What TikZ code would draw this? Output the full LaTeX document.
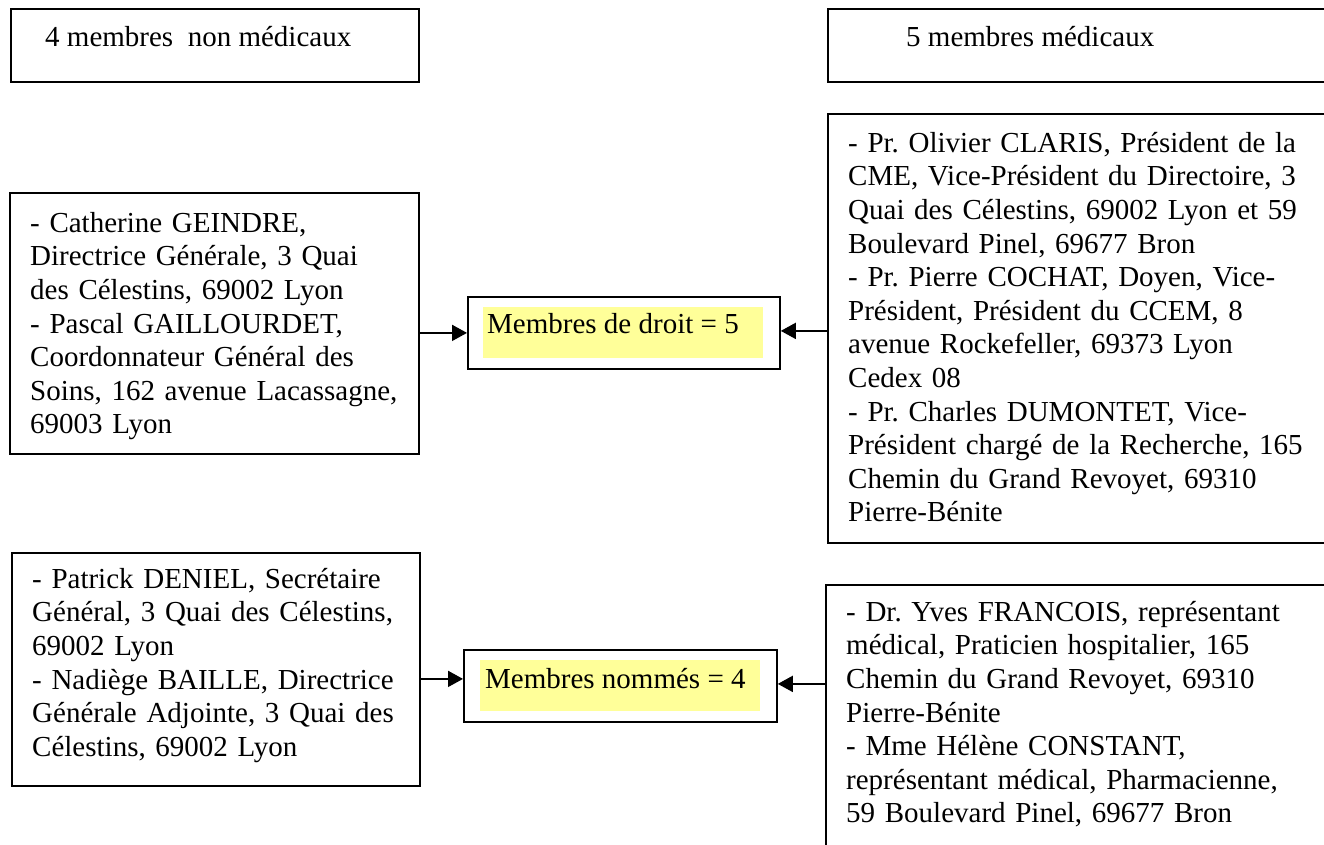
\documentclass[tikz,border=0pt]{standalone}
\usepackage{fontspec}
\setmainfont{Liberation Serif}
\usetikzlibrary{arrows.meta}
\definecolor{hl}{RGB}{255,255,153}
\frenchspacing
\begin{document}
\begin{tikzpicture}[x=1pt,y=-1pt,
  box/.style={draw, line width=1.8pt, rectangle, inner sep=0pt, anchor=north west},
  txt/.style={anchor=north west, inner sep=0pt, align=left, text width=#1, font=\fontsize{29}{33.6}\selectfont},
  lbl/.style={anchor=base west, inner sep=0pt, font=\fontsize{29}{33.6}\selectfont},
  arr/.style={line width=1.8pt, -{Triangle[length=15pt,width=16pt]}}]
\useasboundingbox (0,0) rectangle (1324,845);
\clip (0,0) rectangle (1324,845);

% header boxes
\node[box, minimum width=408pt, minimum height=73pt] (hl) at (10,8) {};
\node[box, minimum width=520pt, minimum height=73pt] (hr) at (827,8) {};
\node[lbl] (hltxt) at (45,47) {4 membres\ \ non médicaux};
\node[lbl] (hrtxt) at (906,47) {5 membres médicaux};

% row 1
\node[box, minimum width=409pt, minimum height=261pt] (lb1) at (9,192) {};
\node[box, minimum width=520pt, minimum height=429pt] (rb1) at (827,113) {};
\node[box, minimum width=312pt, minimum height=72pt] (cb1) at (467,296) {};
\fill[hl] (483,307) rectangle (763,358);
\node[lbl] (cb1txt) at (487,333) {Membres de droit = 5};

\node[txt=380pt] (lb1txt) at (30,208.5) {\strut - Catherine GEINDRE,\\
Directrice Générale, 3 Quai\\
des Célestins, 69002 Lyon\\
- Pascal GAILLOURDET,\\
Coordonnateur Général des\\
Soins, 162 avenue Lacassagne,\\
69003 Lyon};

\node[txt=470pt] (rb1txt) at (848,128.5) {\strut - Pr. Olivier CLARIS, Président de la\\
CME, Vice-Président du Directoire, 3\\
Quai des Célestins, 69002 Lyon et 59\\
Boulevard Pinel, 69677 Bron\\
- Pr. Pierre COCHAT, Doyen, Vice-\\
Président, Président du CCEM, 8\\
avenue Rockefeller, 69373 Lyon\\
Cedex 08\\
- Pr. Charles DUMONTET, Vice-\\
Président chargé de la Recherche, 165\\
Chemin du Grand Revoyet, 69310\\
Pierre-Bénite};

\draw[arr] (lb1.east |- cb1.west) -- (cb1.west);
\path ([yshift=-2.5pt]rb1.west) coordinate (r1);
\draw[arr] (r1) -- (cb1.east |- r1);

% row 2
\node[box, minimum width=408pt, minimum height=233pt] (lb2) at (11,552) {};
\node[box, minimum width=520pt, minimum height=300pt] (rb2) at (825,584) {};
\node[box, minimum width=313pt, minimum height=72pt] (cb2) at (463,649) {};
\fill[hl] (480,660) rectangle (760,711);
\node[lbl] (cb2txt) at (485,688) {Membres nommés = 4};

\node[txt=380pt] (lb2txt) at (32,564.5) {\strut - Patrick DENIEL, Secrétaire\\
Général, 3 Quai des Célestins,\\
69002 Lyon\\
- Nadiège BAILLE, Directrice\\
Générale Adjointe, 3 Quai des\\
Célestins, 69002 Lyon};

\node[txt=470pt] (rb2txt) at (846,597.5) {\strut - Dr. Yves FRANCOIS, représentant\\
médical, Praticien hospitalier, 165\\
Chemin du Grand Revoyet, 69310\\
Pierre-Bénite\\
- Mme Hélène CONSTANT,\\
représentant médical, Pharmacienne,\\
59 Boulevard Pinel, 69677 Bron};

\path ([yshift=7pt]cb2.west) coordinate (c2in);
\draw[arr] (lb2.east |- c2in) -- (c2in);
\path ([yshift=2pt]cb2.east) coordinate (c2out);
\draw[arr] (rb2.west |- c2out) -- (c2out);
\end{tikzpicture}
\end{document}
